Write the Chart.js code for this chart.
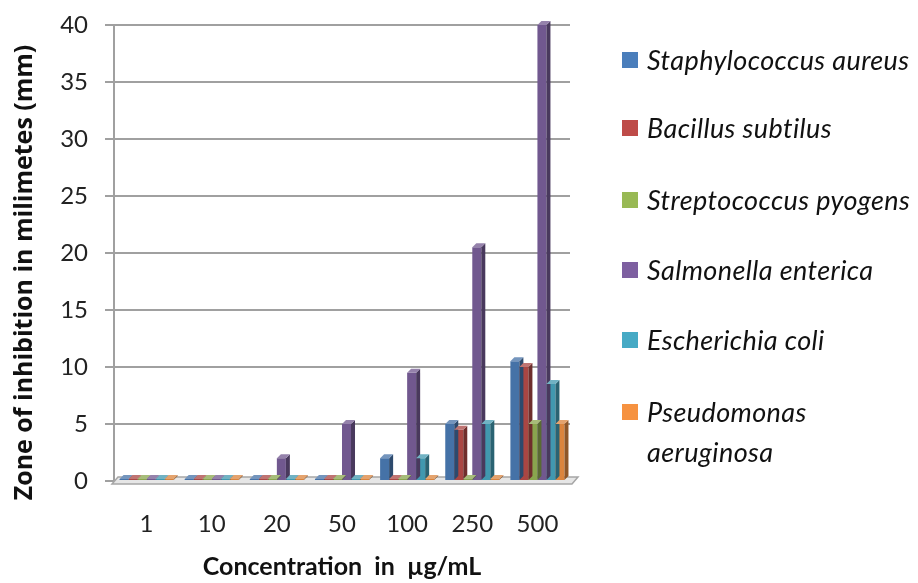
<!DOCTYPE html>
<html>
<head>
<meta charset="utf-8">
<script src="https://cdn.jsdelivr.net/npm/chart.js@4.4.1/dist/chart.umd.min.js"></script>
<style>
  html, body { margin: 0; padding: 0; background: #fff; }
  #wrap { position: relative; width: 918px; height: 583px; }
  canvas { position: absolute; left: 0; top: 0; }
  #legend { position: absolute; left: 622px; top: 0; font-family: Lato, "Open Sans", sans-serif; font-style: italic; font-size: 27px; letter-spacing: 0.4px; color: #111; }
  .item { position: absolute; left: 0; white-space: nowrap; }
  .sw { position: absolute; left: 0; width: 16px; height: 16px; }
  .tx { position: absolute; left: 25px; line-height: 40px; }
</style>
</head>
<body>
<div id="wrap">
  <canvas id="c" width="918" height="583"></canvas>
  <div id="legend"></div>
</div>
<script>
const categories = ["1", "10", "20", "50", "100", "250", "500"];
const seriesNames = ["Staphylococcus aureus", "Bacillus subtilus", "Streptococcus pyogens", "Salmonella enterica", "Escherichia coli", "Pseudomonas aeruginosa"];
const staphylococcus = [0, 0, 0, 0, 2, 5, 10.5];
const bacillus = [0, 0, 0, 0, 0, 4.5, 10];
const streptococcus = [0, 0, 0, 0, 0, 0, 5];
const salmonella = [0, 0, 2, 5, 9.5, 20.5, 40];
const escherichia = [0, 0, 0, 0, 2, 5, 8.5];
const pseudomonas = [0, 0, 0, 0, 0, 0, 5];
const yTicks = [0, 5, 10, 15, 20, 25, 30, 35, 40];
const colors = ["#4572a7", "#aa4643", "#89a54e", "#71588f", "#4198af", "#db843d"];
const legendColors = ["#4a7ebb", "#be4b48", "#98b954", "#7d5fa0", "#46aac5", "#f69240"];
const legendLines = [["Staphylococcus aureus"], ["Bacillus subtilus"], ["Streptococcus pyogens"], ["Salmonella enterica"], ["Escherichia coli"], ["Pseudomonas", "aeruginosa"]];
const legendY = [60, 128, 200, 270, 340, 412];

const allSeries = [staphylococcus, bacillus, streptococcus, salmonella, escherichia, pseudomonas];

function shade(hex, f) {
  const n = parseInt(hex.slice(1), 16);
  let r = (n >> 16) & 255, g = (n >> 8) & 255, b = n & 255;
  if (f < 0) { r = r * (1 + f); g = g * (1 + f); b = b * (1 + f); }
  else { r = r + (255 - r) * f; g = g + (255 - g) * f; b = b + (255 - b) * f; }
  return `rgb(${Math.round(r)},${Math.round(g)},${Math.round(b)})`;
}

const DEPTH = 4;
const bar3d = {
  id: 'bar3d',
  beforeDatasetsDraw(chart) {
    const { ctx, chartArea } = chart;
    const y0 = chart.scales.y.getPixelForValue(0);
    ctx.save();
    ctx.fillStyle = '#e6e6e6';
    ctx.strokeStyle = '#a6a6a6';
    ctx.lineWidth = 1.5;
    ctx.beginPath();
    ctx.moveTo(chartArea.left - 2, y0 + 3);
    ctx.lineTo(chartArea.left + 4, y0 - 4);
    ctx.lineTo(chartArea.right + 8, y0 - 4);
    ctx.lineTo(chartArea.right + 2, y0 + 3);
    ctx.closePath();
    ctx.fill();
    ctx.stroke();
    ctx.restore();
  },
  afterDatasetsDraw(chart) {
    const { ctx } = chart;
    ctx.save();
    chart.data.datasets.forEach((ds, i) => {
      const meta = chart.getDatasetMeta(i);
      meta.data.forEach((el) => {
        const p = el.getProps(['x', 'y', 'base', 'width'], true);
        const l = p.x - p.width / 2, r = p.x + p.width / 2;
        const top = Math.min(p.y, p.base), bot = Math.max(p.y, p.base);
        ctx.fillStyle = shade(colors[i], -0.35);
        ctx.beginPath();
        ctx.moveTo(r, top); ctx.lineTo(r + DEPTH, top - DEPTH);
        ctx.lineTo(r + DEPTH, bot - DEPTH); ctx.lineTo(r, bot);
        ctx.closePath(); ctx.fill();
        ctx.fillStyle = shade(colors[i], 0.25);
        ctx.beginPath();
        ctx.moveTo(l, top); ctx.lineTo(l + DEPTH, top - DEPTH);
        ctx.lineTo(r + DEPTH, top - DEPTH); ctx.lineTo(r, top);
        ctx.closePath(); ctx.fill();
      });
    });
    ctx.restore();
  }
};

const datasets = allSeries.map((d, i) => ({
  label: seriesNames[i],
  data: d,
  backgroundColor: colors[i],
  borderWidth: 0,
  minBarLength: 2,
  categoryPercentage: 0.83,
  barPercentage: 1.0
}));

new Chart(document.getElementById('c'), {
  type: 'bar',
  data: { labels: categories, datasets },
  plugins: [bar3d],
  options: {
    responsive: false,
    animation: false,
    layout: { padding: { top: 25, right: 348, left: 0, bottom: 0 } },
    plugins: { legend: { display: false }, tooltip: { enabled: false } },
    scales: {
      x: {
        grid: { display: false },
        border: { display: false },
        ticks: { color: '#222', font: { family: 'Lato', size: 24 }, padding: 21 },
        title: { display: true, text: 'Concentration  in  µg/mL', color: '#111', font: { family: 'Lato', size: 25, weight: 'bold' }, padding: { top: 4, bottom: 1 } },
        afterFit(s) { s.height = 102; }
      },
      y: {
        min: 0, max: 40,
        afterBuildTicks(s) { s.ticks = yTicks.map(v => ({ value: v })); },
        grid: { color: '#a0a0a0', lineWidth: 2, tickLength: 9, drawTicks: true },
        border: { display: true, color: '#a0a0a0', width: 2 },
        ticks: { color: '#222', font: { family: 'Lato', size: 24 }, padding: 17 },
        title: { display: true, text: 'Zone of inhibition in milimetes (mm)\u00A0\u00A0\u00A0\u00A0\u00A0\u00A0', color: '#111', font: { family: 'Open Sans', size: 25, weight: 'bold' }, padding: { top: 10, bottom: 0 } },
        afterFit(s) { s.width = 114; s.paddingTop = 0; s.paddingBottom = 0; }
      }
    }
  }
});

const legend = document.getElementById('legend');
legendLines.forEach((lines, i) => {
  const item = document.createElement('div');
  item.className = 'item';
  item.style.top = (legendY[i] - 20) + 'px';
  const sw = document.createElement('div');
  sw.className = 'sw';
  sw.style.background = legendColors[i];
  sw.style.top = '12px';
  item.appendChild(sw);
  const tx = document.createElement('div');
  tx.className = 'tx';
  tx.innerHTML = lines.join('<br>');
  item.appendChild(tx);
  legend.appendChild(item);
});
</script>
</body>
</html>
